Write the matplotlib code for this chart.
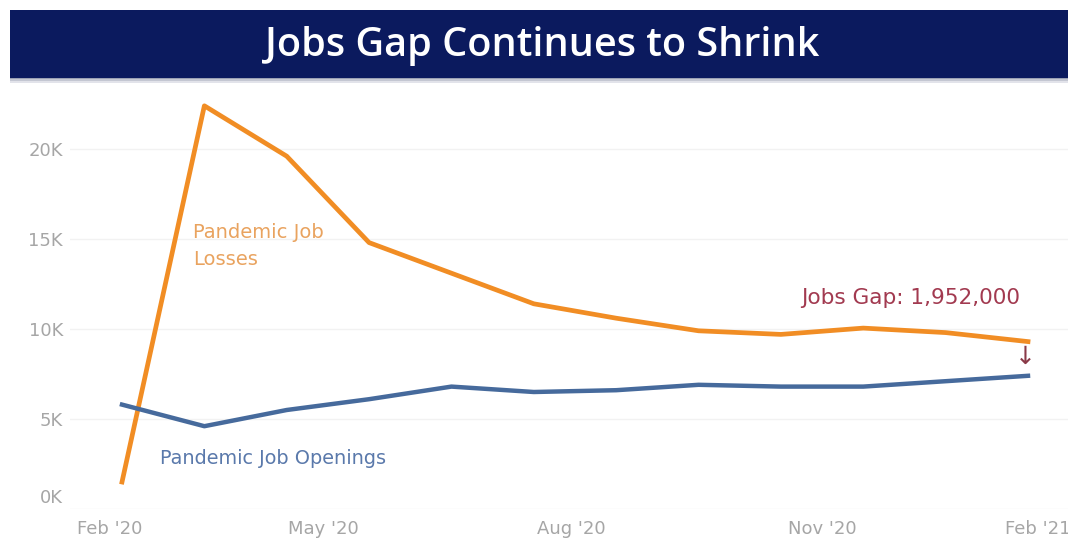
import matplotlib
matplotlib.use("Agg")
import matplotlib.pyplot as plt
from matplotlib.patches import Rectangle
import matplotlib.transforms as mtransforms

# ---- data (thousands) ----
months = ["Mar '20", "Apr '20", "May '20", "Jun '20", "Jul '20", "Aug '20",
          "Sep '20", "Oct '20", "Nov '20", "Dec '20", "Jan '21", "Feb '21"]
job_losses = [1.5, 22.4, 19.6, 14.8, 13.1, 11.4, 10.6, 9.9, 9.7, 10.05, 9.8, 9.3]
job_openings = [5.8, 4.6, 5.5, 6.1, 6.8, 6.5, 6.6, 6.9, 6.8, 6.8, 7.1, 7.4]
xtick_labels = ["Feb '20", "May '20", "Aug '20", "Nov '20", "Feb '21"]
xtick_pos = [-0.15, 2.45, 5.45, 8.5, 11.12]
ytick_vals = [0, 5, 10, 15, 20]
ytick_labels = ["0K", "5K", "10K", "15K", "20K"]
title = "Jobs Gap Continues to Shrink"
gap_text = "Jobs Gap: 1,952,000"

plt.rcParams['font.family'] = ['Open Sans', 'DejaVu Sans']

W, H = 1068, 544
fig = plt.figure(figsize=(W / 100, H / 100), dpi=100)
fig.patch.set_facecolor('white')

# title band with soft shadow
for i, c in enumerate(['#9aa0b4', '#c4c7d2', '#e2e3ea']):
    fig.patches.append(Rectangle((10 / W, 1 - (79 + i * 2) / H), 1 - 10 / W, 2 / H,
                                 transform=fig.transFigure, facecolor=c, edgecolor='none', zorder=0))
fig.patches.append(Rectangle((10 / W, 1 - 78 / H), 1 - 10 / W, 68 / H, transform=fig.transFigure,
                             facecolor='#0b1a5e', edgecolor='none', zorder=1))
title_t = fig.text(542 / W, 1 - 46 / H, title, color='white', fontsize=24, ha='center', va='center',
                   fontweight='semibold')

# axes
left_px, right_px, top_px, bot_px = 70, 1068, 88, 509
ax = fig.add_axes([left_px / W, 1 - bot_px / H, (right_px - left_px) / W, (bot_px - top_px) / H])
x = list(range(len(months)))
px_per_unit = (1028 - 122) / 11
ax.set_xlim(-(122 - left_px) / px_per_unit, 11 + (right_px - 1028) / px_per_unit)
ax.set_ylim(0, (bot_px - top_px) / 18.0)

ax.plot(x, job_losses, color='#f18d24', lw=3.4, solid_joinstyle='round', zorder=3)
ax.plot(x, job_openings, color='#466a9c', lw=3.2, solid_joinstyle='round', zorder=3)

for s in ax.spines.values():
    s.set_visible(False)
ax.set_yticks(ytick_vals)
ax.set_yticklabels(ytick_labels)
ax.set_xticks(xtick_pos)
ax.set_xticklabels(xtick_labels)
ax.tick_params(axis='both', length=0, colors='#a6a6a6')
ax.tick_params(axis='y', pad=5)
ax.tick_params(axis='x', pad=8)
for lab in ax.get_xticklabels() + ax.get_yticklabels():
    lab.set_family(['DejaVu Sans'])
    lab.set_fontsize(13)
ax.grid(axis='y', color='#f2f2f2', lw=1)
ax.set_axisbelow(True)

# shift 0K label up
offset = mtransforms.ScaledTranslation(0, 13 / 100, fig.dpi_scale_trans)
ylabs = ax.get_yticklabels()
ylabs[0].set_transform(ylabs[0].get_transform() + offset)

# annotations
loss_t = ax.text(0.86, 14.6, "Pandemic Job\nLosses", color='#e9a35f', fontsize=12.5,
                 ha='left', va='center', linespacing=1.55, family=['DejaVu Sans'])
open_t = ax.text(0.46, 2.83, "Pandemic Job Openings", color='#5a79ab', fontsize=12.5,
                 ha='left', va='center', family=['DejaVu Sans'])
gap_t = ax.text(9.57, 11.72, gap_text, color='#a23a50', fontsize=13, ha='center', va='center',
                family=['DejaVu Sans'])
ax.text(10.97, 8.45, "↓", color='#8a3a48', fontsize=18, ha='center', va='center',
        family=['DejaVu Sans'])

# fit text widths to the reference
fig.canvas.draw()
r = fig.canvas.get_renderer()
for t, target in [(title_t, 555), (open_t, 228), (gap_t, 218), (loss_t, 132)]:
    w = t.get_window_extent(r).width
    t.set_fontsize(t.get_fontsize() * target / w)

fig.savefig("out.png", dpi=100)
